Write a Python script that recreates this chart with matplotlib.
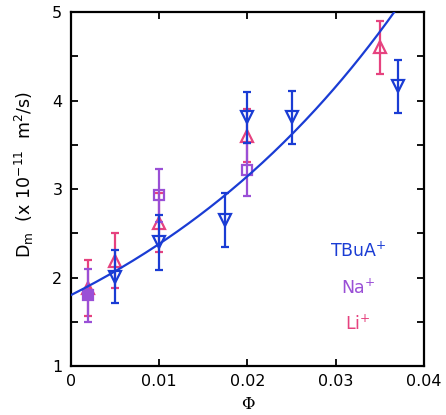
import numpy as np
import matplotlib.pyplot as plt

# TBuA+ (open down triangles)
tbua_phi = [0.005, 0.010, 0.0175, 0.020, 0.025, 0.037]
tbua_d = [2.01, 2.40, 2.65, 3.81, 3.81, 4.16]
tbua_err = [0.30, 0.31, 0.30, 0.29, 0.30, 0.30]

# Na+ (squares, first one filled)
na_phi = [0.002, 0.010, 0.020]
na_d = [1.80, 2.93, 3.22]
na_err = [0.30, 0.30, 0.30]

# Li+ (up triangles, first one filled)
li_phi = [0.002, 0.005, 0.010, 0.020, 0.035]
li_d = [1.88, 2.19, 2.62, 3.60, 4.60]
li_err = [0.32, 0.31, 0.33, 0.30, 0.30]

# exponential fit D = D0 * exp(k * phi)
fit_d0 = 1.80
fit_k = 27.9

blue = '#1a3cd4'
purple = '#9a4fd6'
pink = '#e6427f'

plt.rcParams['font.family'] = ['DejaVu Sans']
fig = plt.figure(figsize=(4.46, 4.15), dpi=100)
ax = fig.add_axes([0.1585, 0.118, 0.7925, 0.853])

phi = np.linspace(0, 0.04, 200)
ax.plot(phi, fit_d0 * np.exp(fit_k * phi), color=blue, lw=1.6, zorder=4)

def series(x, y, e, color, marker, ms, filled_first):
    ax.errorbar(x, y, yerr=e, fmt='none', ecolor=color, elinewidth=1.6,
                capsize=2.6, capthick=1.6, zorder=3)
    for i in range(len(x)):
        fc = color if (filled_first and i == 0) else 'none'
        ax.plot(x[i], y[i], marker=marker, ms=ms, mfc=fc, mec=color,
                mew=1.6, ls='none', zorder=3)

series(li_phi, li_d, li_err, pink, '^', 8, True)
series(na_phi, na_d, na_err, purple, 's', 7, True)
series(tbua_phi, tbua_d, tbua_err, blue, 'v', 8, False)

ax.set_xlim(0, 0.04)
ax.set_ylim(1, 5)
ax.set_xticks([0, 0.01, 0.02, 0.03, 0.04])
ax.set_xticklabels(['0', '0.01', '0.02', '0.03', '0.04'])
ax.set_yticks([1, 2, 3, 4, 5])
ax.set_yticks(np.arange(1.5, 5, 1.0), minor=True)
ax.tick_params(which='both', direction='in', top=True, right=True,
               length=5, width=1.3, labelsize=11.5, pad=6)
for s in ax.spines.values():
    s.set_linewidth(1.6)

ax.set_xlabel('Φ', family='DejaVu Serif', fontsize=12, labelpad=2)
ax.xaxis.set_label_coords(0.5, -0.085)
ax.set_ylabel(r'D$_\mathregular{m}$  (x 10$^\mathregular{-11}$  m$^\mathregular{2}$/s)',
              fontsize=12.5, labelpad=10)
ax.yaxis.set_label_coords(-0.098, 0.54)

ax.text(0.813, 0.325, r'TBuA$^\mathregular{+}$', color=blue, fontsize=12.5,
        transform=ax.transAxes, ha='center', va='center')
ax.text(0.813, 0.22, r'Na$^\mathregular{+}$', color=purple, fontsize=12.5,
        transform=ax.transAxes, ha='center', va='center')
ax.text(0.813, 0.119, r'Li$^\mathregular{+}$', color=pink, fontsize=12.5,
        transform=ax.transAxes, ha='center', va='center')

fig.savefig('out.png', dpi=100)
